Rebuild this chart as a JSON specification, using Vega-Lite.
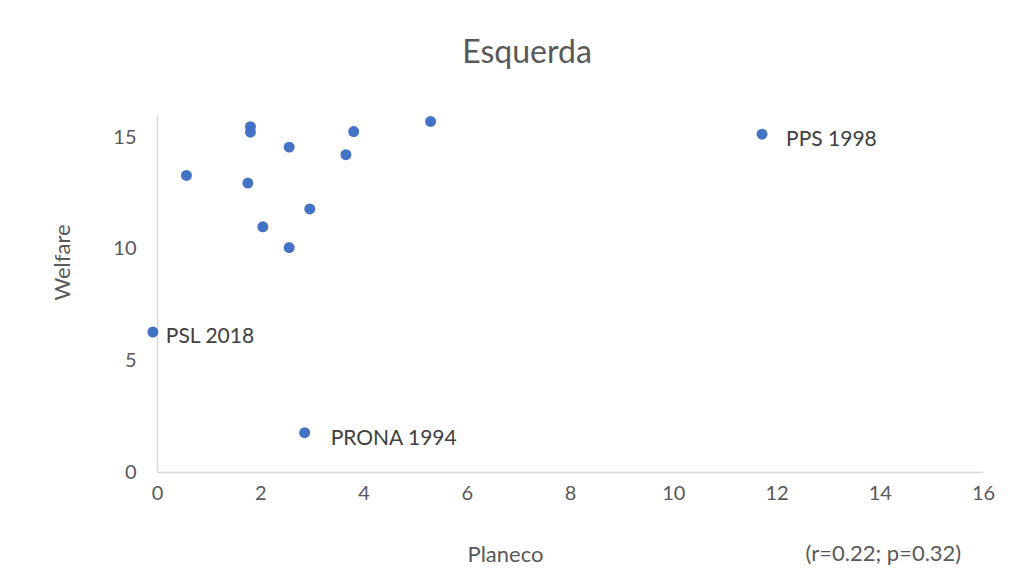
{
  "$schema": "https://vega.github.io/schema/vega-lite/v6.json",
  "width": 826,
  "height": 357,
  "autosize": "none",
  "padding": {"left": 157, "top": 115, "right": 41, "bottom": 104},
  "background": "white",
  "title": {"text": "Esquerda", "font": "Lato", "fontSize": 32, "fontWeight": "normal", "color": "#595959", "anchor": "middle", "frame": "group", "dx": -43, "offset": 45},
  "config": {"view": {"stroke": null}},
  "data": {"values": [
    {"party": "PSL 2018", "planeco": -0.08, "welfare": 6.27},
    {"party": "", "planeco": 0.57, "welfare": 13.29},
    {"party": "", "planeco": 1.81, "welfare": 15.48},
    {"party": "", "planeco": 1.81, "welfare": 15.23},
    {"party": "", "planeco": 1.76, "welfare": 12.95},
    {"party": "", "planeco": 2.05, "welfare": 10.99},
    {"party": "", "planeco": 2.56, "welfare": 14.56},
    {"party": "", "planeco": 2.56, "welfare": 10.06},
    {"party": "", "planeco": 2.96, "welfare": 11.79},
    {"party": "", "planeco": 3.66, "welfare": 14.22},
    {"party": "", "planeco": 3.81, "welfare": 15.26},
    {"party": "", "planeco": 5.30, "welfare": 15.71},
    {"party": "PRONA 1994", "planeco": 2.86, "welfare": 1.76},
    {"party": "PPS 1998", "planeco": 11.72, "welfare": 15.14}
  ]},
  "encoding": {
    "x": {"field": "planeco", "type": "quantitative", "scale": {"domain": [0, 16], "nice": false, "zero": false},
      "axis": {"title": "Planeco", "values": [0, 2, 4, 6, 8, 10, 12, 14, 16], "grid": false, "ticks": false, "domainColor": "#D9D9D9", "domainWidth": 1.5,
        "labelFont": "Lato", "labelFontSize": 20, "labelColor": "#595959", "labelPadding": 21, "labelBaseline": "middle", "labelFlush": false, "labelOverlap": false,
        "titleFont": "Lato", "titleFontSize": 22, "titleFontWeight": "normal", "titleColor": "#595959", "titleX": 348, "titleY": 82, "titleBaseline": "middle", "titleAlign": "center"}},
    "y": {"field": "welfare", "type": "quantitative", "scale": {"domain": [0, 16], "nice": false},
      "axis": {"title": "Welfare", "values": [0, 5, 10, 15], "grid": false, "ticks": false, "domainColor": "#D9D9D9", "domainWidth": 1.5,
        "labelFont": "Lato", "labelFontSize": 20, "labelColor": "#595959", "labelPadding": 21, "labelFlush": false,
        "titleFont": "Lato", "titleFontSize": 22, "titleFontWeight": "normal", "titleColor": "#595959", "titleX": -95, "titleY": 147, "titleBaseline": "middle", "titleAngle": -90, "titleAlign": "center"}}
  },
  "layer": [
    {"mark": {"type": "point", "filled": true, "size": 120, "color": "#4472C4", "opacity": 1}},
    {"transform": [{"filter": "datum.party == 'PSL 2018'"}],
      "mark": {"type": "text", "align": "left", "baseline": "middle", "dx": 13, "dy": 5, "font": "Lato", "fontSize": 21, "color": "#404040"},
      "encoding": {"text": {"field": "party"}}},
    {"transform": [{"filter": "datum.party == 'PRONA 1994'"}],
      "mark": {"type": "text", "align": "left", "baseline": "middle", "dx": 26, "dy": 6, "font": "Lato", "fontSize": 21, "color": "#404040"},
      "encoding": {"text": {"field": "party"}}},
    {"transform": [{"filter": "datum.party == 'PPS 1998'"}],
      "mark": {"type": "text", "align": "left", "baseline": "middle", "dx": 24, "dy": 6, "font": "Lato", "fontSize": 21, "color": "#404040"},
      "encoding": {"text": {"field": "party"}}},
    {"transform": [{"filter": "datum.party == 'PPS 1998'"}],
      "mark": {"type": "text", "align": "center", "baseline": "middle", "font": "Lato", "fontSize": 22, "color": "#595959"},
      "encoding": {"x": {"datum": 14.07}, "y": {"datum": -3.68}, "text": {"value": "(r=0.22; p=0.32)"}}}
  ]
}
